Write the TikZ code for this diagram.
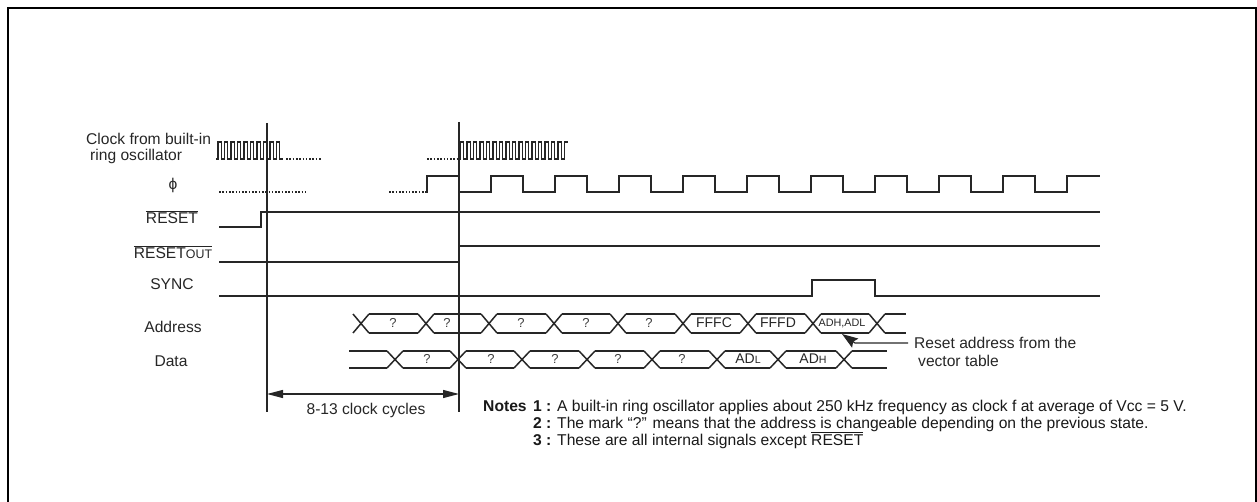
\documentclass[tikz,border=0pt]{standalone}
\usepackage{fontspec}
\setmainfont{Liberation Sans}
\usetikzlibrary{arrows.meta, positioning, calc}
\providecommand{\lowsz}[1]{{\fontsize{12.4}{13}\selectfont #1}}
\providecommand{\lowcell}[1]{{\fontsize{10.6}{12}\selectfont #1}}
\providecommand{\barred}[1]{$\overline{\mbox{#1}}$}
\begin{document}
\begin{tikzpicture}[
  x=1pt, y=-1pt,
  sig/.style     = {line width=1.2pt, black!85},
  xing/.style    = {line width=1.5pt, black!85},
  cursor/.style  = {line width=1.2pt, black!85},
  frameln/.style = {line width=1.9pt, black},
  dotted1/.style = {line width=1.2pt, black!85, dash pattern=on 1.6pt off 1.7pt},
  dimarr/.style  = {{Triangle[length=16pt,width=8pt]}-{Triangle[length=16pt,width=8pt]}, line width=1.2pt, black!85},
  tagarr/.style  = {-{Stealth[length=16pt,width=11pt,inset=2.5pt]}, line width=1.2pt, black!85, line join=round},
  lbl/.style     = {font=\fontsize{15.6}{16}\selectfont, inner sep=0pt, text=black!85},
  cell/.style    = {font=\fontsize{13}{14}\selectfont, inner sep=0pt, text=black!75},
  cellsm/.style  = {font=\fontsize{10.8}{12}\selectfont, inner sep=0pt, text=black!85},
  cellbg/.style  = {font=\fontsize{14}{15}\selectfont, inner sep=0pt, text=black!85},
  note/.style    = {font=\fontsize{15.65}{17}\selectfont, inner sep=0pt, anchor=base west, text=black!90},
  notehd/.style  = {note, font=\bfseries\fontsize{15.65}{17}\selectfont},
]
\useasboundingbox (0,0) rectangle (1257,502);

% ---------- outer frame (open at the bottom) ----------
\draw[frameln] (8,502) -- (8,8) -- (1256,8) -- (1256,502);

% ---------- signal names ----------
\node[lbl, align=left, anchor=west] (Lclk) at (86,148) {Clock from built-in\\\hspace{4pt}ring oscillator};
\node[lbl] (Lphi) at (173,185) {ϕ};
\node[lbl] (Lres) at (172,217) {\barred{RESET}};
\node[lbl] (Lout) at (173,252) {\barred{RESET\lowsz{OUT}}};
\node[lbl] (Lsync) at (172,284) {SYNC};
\node[lbl] (Laddr) at (173,327) {Address};
\node[lbl] (Ldata) at (171,361) {Data};

% ---------- ring oscillator clock ----------
\draw[sig] (216,159) -- (218,159)
  foreach \n in {0,...,9} { -- ++(0,-17) -- ++(3.3,0) -- ++(0,17) -- ++(3.2,0) };
\draw[dotted1] (286,159) -- (321,159);
\draw[dotted1] (427,159) -- (457,159);
\draw[sig] (460,159) -- (460.5,159)
  foreach \n in {0,...,15} { -- ++(0,-17) -- ++(3.3,0) -- ++(0,17) -- ++(3.2,0) }
  -- ++(0,-17) -- ++(3,0);

% ---------- phi ----------
\draw[dotted1] (219,192) -- (308,192);
\draw[dotted1] (389,192) -- (426,192);
\draw[sig] (426,192) -- (427,192) |- (459,176) |- (491,192) |- (523,176) |- (555,192) |- (587,176)
  |- (619,192) |- (651,176) |- (683,192) |- (715,176) |- (747,192) |- (779,176)
  |- (811,192) |- (843,176) |- (875,192) |- (907,176) |- (939,192) |- (971,176)
  |- (1003,192) |- (1035,176) |- (1067,192) |- (1100,176);

% ---------- RESET, RESETOUT, SYNC ----------
\draw[sig] (219,227) -- (261,227) -- (261,212) -- (1100,212);
\draw[sig] (219,262) -- (459,262) -- (459,246) -- (1100,246);
\draw[sig] (219,296) -- (812,296) -- (812,280) -- (875,280) -- (875,296) -- (1100,296);

% ---------- Address bus ----------
\foreach \xa in {361,426,489,554,618,683,748,813,877}
  \draw[xing] (\xa-8,314) -- (\xa+8,333) (\xa-8,333) -- (\xa+8,314);
\foreach \xa/\xb in {361/426,426/489,489/554,554/618,618/683,683/748,748/813,813/877}
  \draw[sig] (\xa+8,314) -- (\xb-8,314) (\xa+8,333) -- (\xb-8,333);
\draw[sig] (885,314) -- (906,314) (885,333) -- (906,333);

\node[cell] (Aa) at (393,323) {?};
\node[cell] (Ab) at (447,323) {?};
\node[cell] (Ac) at (521,323) {?};
\node[cell] (Ad) at (586,323) {?};
\node[cell] (Ae) at (649,323) {?};
\node[cellbg] (Af) at (714,323) {FFFC};
\node[cellbg] (Ag) at (778,323) {FFFD};
\node[cellsm] (Ah) at (842,323.5) {ADH,ADL};

% ---------- Data bus ----------
\draw[sig] (349,351) -- (387,351) (349,368) -- (387,368);
\foreach \xa in {395,458,522,587,652,717,778,844}
  \draw[xing] (\xa-8,351) -- (\xa+8,368) (\xa-8,368) -- (\xa+8,351);
\foreach \xa/\xb in {395/458,458/522,522/587,587/652,652/717,717/778,778/844}
  \draw[sig] (\xa+8,351) -- (\xb-8,351) (\xa+8,368) -- (\xb-8,368);
\draw[sig] (852,351) -- (887,351) (852,368) -- (887,368);

\node[cell] (Da) at (427,359) {?};
\node[cell] (Db) at (491,359) {?};
\node[cell] (Dc) at (555,359) {?};
\node[cell] (Dd) at (618,359) {?};
\node[cell] (De) at (682,359) {?};
\node[cellbg] (Df) at (748,359) {AD\lowcell{L}};
\node[cellbg] (Dg) at (813,359) {AD\lowcell{H}};

% ---------- cursors + span ----------
\coordinate (Ca) at (267,123);
\coordinate (Cb) at (459,122);
\coordinate (Sa) at (267,394);
\coordinate (Sb) at (459,394);
\draw[cursor] (Ca) -- (267,412);
\draw[cursor] (Cb) -- (459,412);
\draw[dimarr] (Sa) -- (Sb);
\node[lbl] (Lspan) at (366,410) {8-13 clock cycles};

% ---------- vector table remark ----------
\node[lbl, font=\fontsize{15.6}{18}\selectfont, align=left, anchor=west] (Lvec) at (914,352) {Reset address from the\\\hspace{4pt}vector table};
\coordinate (Vtip) at (842,334);
\draw[tagarr] (908,343) -- (855,343) -- (Vtip);

% ---------- notes ----------
\node[notehd] (Nhd) at (483,411) {Notes};
\node[notehd] (Na) at (533,411) {1 :};
\node[note] (Nat) at (557,411) {A built-in ring oscillator applies about 250 kHz frequency as clock f at average of Vcc = 5 V.};
\node[notehd] (Nb) at (533,428) {2 :};
\node[note] (Nbt) at (557,428) {The mark “?” means that the address is changeable depending on the previous state.};
\node[notehd] (Nc) at (533,445) {3 :};
\node[note] (Nct) at (557,445) {These are all internal signals except \barred{RESET}};
\end{tikzpicture}
\end{document}
